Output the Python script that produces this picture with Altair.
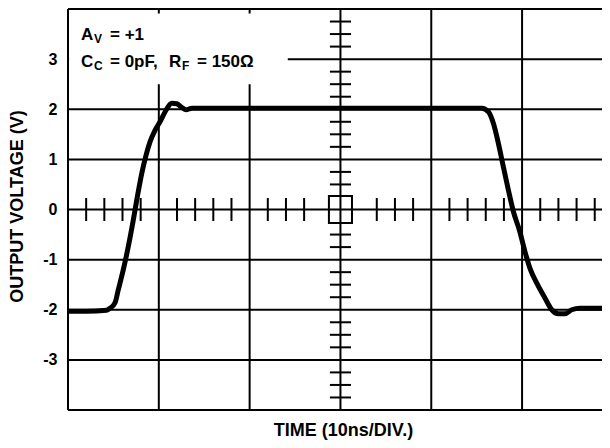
import altair as alt
import pandas as pd

# ---- data (time in ns at 10 ns/div, voltage in V) ----
wave_t = [0.1, 2.0, 4.26, 4.63, 5.18, 5.54, 6.09, 6.64, 7.19, 7.63,
          8.12, 8.59, 9.03, 9.58, 10.13, 10.79, 11.42, 11.97, 12.52, 13.0,
          13.62, 15.64, 25.0, 35.0, 44.27, 45.56, 46.29, 46.84, 47.39, 47.94,
          48.49, 49.04, 49.70, 50.33, 50.88, 51.62, 52.53, 53.27, 54.0, 54.74,
          55.47, 56.39, 59.8]
wave_v = [-2.03, -2.03, -2.01, -1.97, -1.86, -1.60, -1.20, -0.74, -0.21, 0.25,
          0.72, 1.08, 1.35, 1.58, 1.75, 1.98, 2.12, 2.11, 2.04, 1.99,
          2.02, 2.02, 2.02, 2.02, 2.02, 2.02, 1.95, 1.72, 1.32, 0.85,
          0.39, -0.04, -0.41, -0.85, -1.18, -1.47, -1.77, -2.0, -2.08, -2.08,
          -2.0, -1.97, -1.97]

grid_t = [10, 20, 30, 40, 50]
grid_v = [-3, -2, -1, 0, 1, 2, 3]
border_v = [-4, 4]
border_t = [0]
y_labels = [-3, -2, -1, 0, 1, 2, 3]
minor_t = [2, 4, 6, 8, 12, 14, 16, 18, 22, 24, 26, 34, 36, 38, 42, 44, 46, 48, 52, 54, 56, 58]
minor_v = [-3.75, -3.5, -3.25, -2.75, -2.5, -2.25, -1.75, -1.5, -1.25, -0.75, -0.5,
           0.5, 0.75, 1.25, 1.5, 1.75, 2.25, 2.5, 2.75, 3.25, 3.5, 3.75]

FONT = "Liberation Sans"
xs = alt.Scale(domain=[0, 58.8], nice=False, zero=False)
ys = alt.Scale(domain=[-4, 4], nice=False, zero=False)

XAXIS = alt.Axis(
    labels=False, ticks=False, domain=False, grid=False,
    title="TIME (10ns/DIV.)", titleFont=FONT, titleFontSize=18, titleFontWeight="bold",
    titleColor="black", titleX=275, titleY=25, titleBaseline="alphabetic", titleAlign="center")
YAXIS = alt.Axis(
    values=y_labels, ticks=False, domain=False, grid=False,
    labelExpr="datum.value < 0 ? '-' + abs(datum.value) : '' + datum.value",
    labelFont=FONT, labelFontSize=16, labelFontWeight="bold", labelColor="black", labelPadding=11,
    title="OUTPUT VOLTAGE (V)", titleFont=FONT, titleFontSize=18, titleFontWeight="bold",
    titleColor="black", titleX=-50.5, titleY=197, titleAngle=270, titleAlign="center",
    titleBaseline="middle")


def X(field):
    return alt.X(field, scale=xs, axis=XAXIS)


def Y(field):
    return alt.Y(field, scale=ys, axis=YAXIS)


wave = pd.DataFrame({"t": wave_t, "v": wave_v})
rule = dict(color="black", strokeWidth=2)

hgrid = alt.Chart(pd.DataFrame({"v": grid_v})).mark_rule(**rule).encode(y=Y("v:Q"))
vgrid = alt.Chart(pd.DataFrame({"t": grid_t})).mark_rule(**rule).encode(x=X("t:Q"))
hborder = alt.Chart(pd.DataFrame({"v": border_v})).mark_rule(**rule).encode(y=Y("v:Q"))
vborder = alt.Chart(pd.DataFrame({"t": border_t})).mark_rule(**rule).encode(x=X("t:Q"))

box = alt.Chart(pd.DataFrame({"x0": [0.12], "x1": [24.2], "y0": [2.50], "y1": [3.91]})).mark_rect(
    color="white").encode(x=X("x0:Q"), x2="x1:Q", y=Y("y0:Q"), y2="y1:Q")

xt = pd.DataFrame({"t": minor_t})
xt["lo"] = -0.23
xt["hi"] = 0.23
xticks = alt.Chart(xt).mark_rule(**rule).encode(x=X("t:Q"), y=Y("lo:Q"), y2="hi:Q")

yt = pd.DataFrame({"v": minor_v})
yt["lo"] = 28.84
yt["hi"] = 31.16
yticks = alt.Chart(yt).mark_rule(**rule).encode(y=Y("v:Q"), x=X("lo:Q"), x2="hi:Q")

square = alt.Chart(pd.DataFrame({"x0": [28.73], "x1": [31.27], "y0": [-0.27], "y1": [0.27]})).mark_rect(
    fillOpacity=0, stroke="black", strokeWidth=2).encode(x=X("x0:Q"), x2="x1:Q", y=Y("y0:Q"), y2="y1:Q")

curve = alt.Chart(wave).mark_line(color="black", strokeWidth=5, interpolate="monotone",
                                  strokeCap="round", strokeJoin="round", clip=True).encode(
    x=X("t:Q"), y=Y("v:Q"), order="t:Q")

# annotation pieces: (text, dx, dy, size, line y in V)
ann_x = 1.43
pieces = [
    ("A", 0, 0, 17, 3.383), ("V", 13, 3, 12, 3.383), ("= +1", 29, 0, 17, 3.383),
    ("C", 0, 0, 17, 2.846), ("C", 13, 3, 12, 2.846), ("= 0pF,", 29, 0, 17, 2.846),
    ("R", 88, 0, 17, 2.846), ("F", 101, 3, 12, 2.846), ("= 150Ω", 116, 0, 17, 2.846),
]
texts = []
for txt, dx, dy, size, yv in pieces:
    texts.append(alt.Chart(pd.DataFrame({"x": [ann_x], "y": [yv], "label": [txt]})).mark_text(
        align="left", baseline="alphabetic", dx=dx, dy=dy,
        font=FONT, fontSize=size, fontWeight="bold", color="black").encode(
        x=X("x:Q"), y=Y("y:Q"), text="label:N"))

chart = alt.layer(hgrid, vgrid, hborder, box, vborder, xticks, yticks, square, curve, *texts).properties(
    width=534, height=401,
    autosize=alt.AutoSizeParams(type="none"),
    padding={"left": 60, "top": 1, "right": 0, "bottom": 30},
    background="white",
).configure_view(strokeWidth=0)

chart.save("out.html", embed_options={"renderer": "svg", "actions": False})
